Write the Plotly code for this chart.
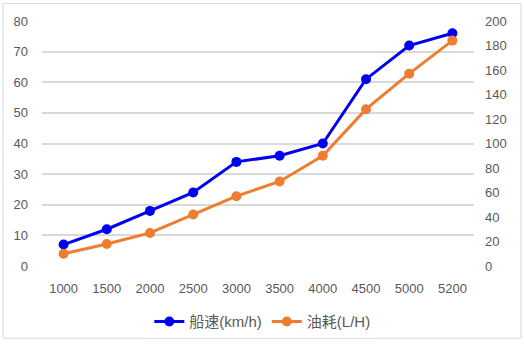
import plotly.graph_objects as go

rpm = ["1000", "1500", "2000", "2500", "3000", "3500", "4000", "4500", "5000", "5200"]
speed_kmh = [7, 12, 18, 24, 34, 36, 40, 61, 72, 76]
fuel_lph = [10, 18, 27, 42, 57, 69, 90, 128, 157, 184]

left_ticks = list(range(0, 81, 10))
right_ticks = list(range(0, 201, 20))

font_family = "Liberation Sans, Noto Sans CJK SC, sans-serif"
tick_color = "#595959"

fig = go.Figure()
fig.add_trace(go.Scatter(
    x=rpm, y=speed_kmh, name="船速(km/h)", mode="lines+markers",
    line=dict(color="#0000F0", width=3),
    marker=dict(color="#0000F0", size=10),
    yaxis="y",
))
fig.add_trace(go.Scatter(
    x=rpm, y=fuel_lph, name="油耗(L/H)", mode="lines+markers",
    line=dict(color="#ED7D31", width=3),
    marker=dict(color="#ED7D31", size=10),
    yaxis="y2",
))

fig.update_layout(
    width=524, height=350,
    margin=dict(l=42, r=50, t=21, b=78),
    paper_bgcolor="white", plot_bgcolor="white",
    font=dict(family=font_family, size=13, color=tick_color),
    xaxis=dict(type="category", range=[-0.5, len(rpm) - 0.5], showgrid=False,
               zeroline=False, showline=False, ticks="", ticklabelstandoff=13,
               tickfont=dict(size=13, color=tick_color)),
    yaxis=dict(range=[0, 80], tickvals=left_ticks, showgrid=True,
               gridcolor="#D9D9D9", gridwidth=1.5, zeroline=False, showline=False,
               ticks="", ticklabelstandoff=13, tickfont=dict(size=13, color=tick_color)),
    yaxis2=dict(range=[0, 200], tickvals=right_ticks, overlaying="y", side="right",
                showgrid=False, zeroline=False, showline=False, ticks="",
                ticklabelstandoff=10, tickfont=dict(size=13, color=tick_color)),
    legend=dict(orientation="h", x=0.51, xanchor="center", y=-0.16, yanchor="top",
                font=dict(size=15, color=tick_color)),
    showlegend=True,
    shapes=[dict(type="rect", xref="paper", yref="paper",
                 x0=(3 - 42) / 432, x1=(521 - 42) / 432,
                 y0=(272 - 346) / 251, y1=(272 - 3) / 251,
                 line=dict(color="#D9D9D9", width=1), layer="below")],
)

fig.write_html("out.html")
